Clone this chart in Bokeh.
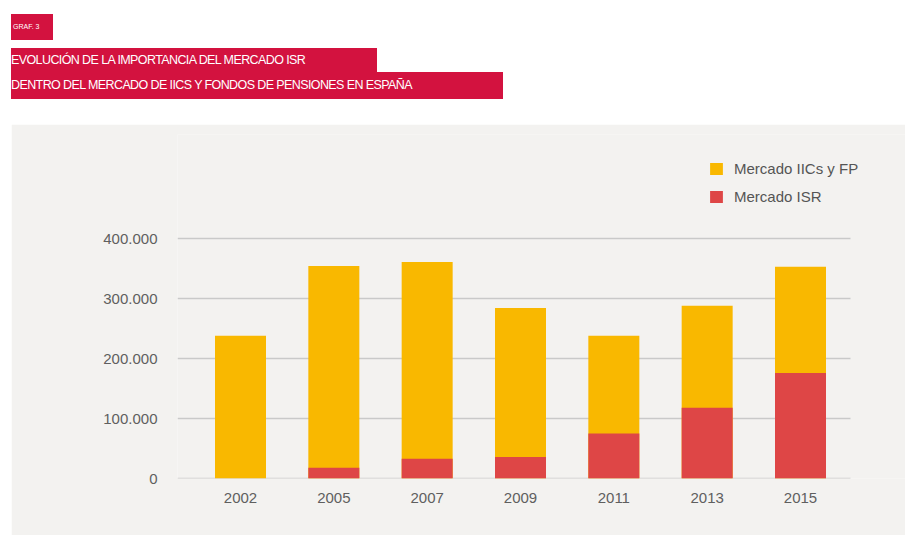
from bokeh.plotting import figure
from bokeh.models import Range1d, FixedTicker, Legend, LegendItem, Div, ColumnDataSource
from bokeh.layouts import column
from bokeh.embed import file_html
from bokeh.resources import INLINE

# ---- data ----
categories = ["2002", "2005", "2007", "2009", "2011", "2013", "2015"]
mercado_total = [238000, 354000, 361000, 284000, 238000, 288000, 353000]   # Mercado IICs y FP
mercado_isr = [0, 18000, 33000, 36000, 75000, 118000, 176000]              # Mercado ISR
y_ticks = [0, 100000, 200000, 300000, 400000]
series_names = ["Mercado IICs y FP", "Mercado ISR"]
chart_label = "GRAF. 3"
title_lines = ["EVOLUCIÓN DE LA IMPORTANCIA DEL MERCADO ISR",
               "DENTRO DEL MERCADO DE IICS Y FONDOS DE PENSIONES EN ESPAÑA"]

YELLOW = "#F9B800"
RED = "#DE4646"
PANEL = "#F3F2F0"
CRIMSON = "#D3123F"

idx = list(range(len(categories)))
src = ColumnDataSource(dict(x=idx, total=mercado_total, isr=mercado_isr))

# ---- title block ----
title_html = f"""
<div style="position:relative;width:913px;height:124px;font-family:'Liberation Sans',Arial,sans-serif;">
  <div style="position:absolute;left:11px;top:14px;width:42px;height:26px;background:{CRIMSON};
       color:#fff;font-size:7px;line-height:26px;padding-left:2px;box-sizing:border-box;">{chart_label}</div>
  <div style="position:absolute;left:11px;top:48px;width:366px;height:25px;background:{CRIMSON};
       color:#fff;font-size:12.5px;letter-spacing:-0.6px;line-height:25px;white-space:nowrap;">{title_lines[0]}</div>
  <div style="position:absolute;left:11px;top:72px;width:492px;height:27px;background:{CRIMSON};
       color:#fff;font-size:12.5px;letter-spacing:-0.6px;line-height:27px;white-space:nowrap;">{title_lines[1]}</div>
</div>
"""
title_div = Div(text=title_html, width=913, height=124, margin=(0, 0, 0, 0))

# ---- chart ----
spacing = (800 - 240) / 6.0
x_start = -(240 - 177) / spacing
x_grid_end = 6 + (850 - 800) / spacing
x_end = 6 + (905 - 800) / spacing
y_end = 400000 * (478 - 134) / 240.0

p = figure(width=894, height=411, output_backend="svg", toolbar_location=None,
           x_range=Range1d(x_start, x_end), y_range=Range1d(0, y_end),
           min_border_left=166, min_border_right=0, min_border_top=10, min_border_bottom=57,
           margin=(0, 0, 0, 11))
p.background_fill_color = PANEL
p.border_fill_color = PANEL
p.outline_line_color = None

# horizontal grid lines (stop short of the right edge, as in the original)
p.segment(x0=[x_start] * len(y_ticks), x1=[x_grid_end] * len(y_ticks),
          y0=y_ticks, y1=y_ticks, line_color="#c9c9c9", line_width=1.5)

bar_w = 51 / spacing
r_total = p.vbar(x="x", top="total", bottom=0, width=bar_w, source=src, color=YELLOW, line_color=None)
r_isr = p.vbar(x="x", top="isr", bottom=0, width=bar_w, source=src, color=RED, line_color=None)

p.xaxis.ticker = FixedTicker(ticks=idx)
p.xaxis.major_label_overrides = {i: c for i, c in zip(idx, categories)}
p.yaxis.ticker = FixedTicker(ticks=y_ticks)
p.yaxis.major_label_overrides = {v: f"{v:,}".replace(",", ".") for v in y_ticks}

for ax in (p.xaxis, p.yaxis):
    ax.axis_line_color = None
    ax.major_tick_line_color = None
    ax.minor_tick_line_color = None
    ax.major_label_text_font = "Liberation Sans"
    ax.major_label_text_font_size = "15px"
    ax.major_label_text_color = "#5f5f5f"
p.xaxis.major_label_standoff = 8
p.yaxis.major_label_standoff = 14

p.xgrid.grid_line_color = None
p.ygrid.grid_line_color = None

legend = Legend(items=[LegendItem(label=series_names[0], renderers=[r_total]),
                       LegendItem(label=series_names[1], renderers=[r_isr])],
                location=(531, 273), orientation="vertical")
legend.padding = 0
legend.margin = 0
legend.border_line_color = None
legend.background_fill_alpha = 0
legend.glyph_width = 16
legend.glyph_height = 15
legend.label_standoff = 10
legend.spacing = 11
legend.label_text_font = "Liberation Sans"
legend.label_text_font_size = "15px"
legend.label_text_color = "#555555"
p.add_layout(legend, "center")

layout = column(title_div, p, spacing=0, margin=(0, 0, 0, 0))

open("out.html", "w").write(file_html(layout, INLINE))
